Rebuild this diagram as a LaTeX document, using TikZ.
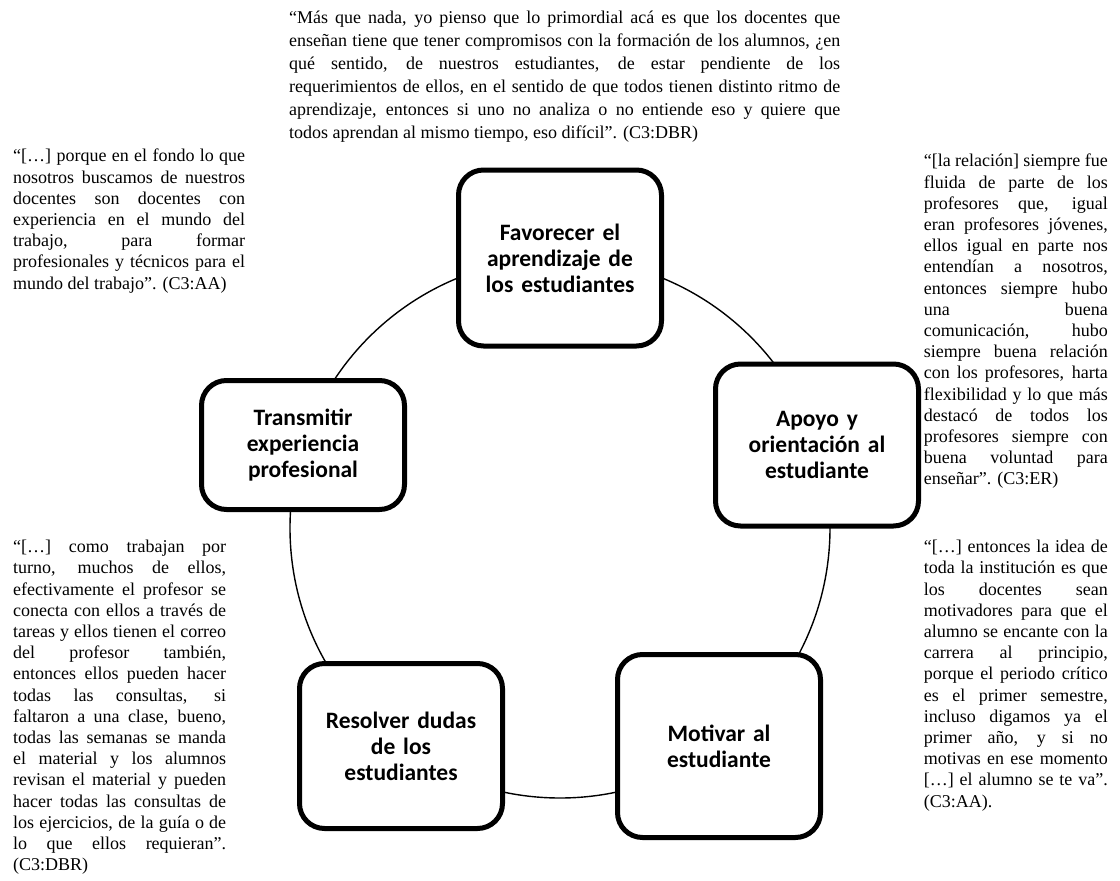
\documentclass[tikz,border=0pt]{standalone}
\usepackage{fontspec}
\setmainfont{Liberation Serif}
\newfontfamily\cajafont{Carlito}

\tikzset{
  etapa/.style={draw, line width=5pt, rounded corners=25pt, fill=white,
    minimum width=203pt, text width=190pt, align=center,
    font=\cajafont\bfseries\fontsize{23.5}{26}\selectfont},
  cita/.style={inner sep=0pt, align=justify, font=\fontsize{18}{21.2}\selectfont},
}

\begin{document}
\begin{tikzpicture}[x=1pt, y=-1pt]

  \useasboundingbox (0,0) rectangle (1120,881);

  % --- ciclo ---
  \coordinate (centro) at (560,528);
  \draw[line width=1.4pt] (centro) circle (270pt);

  % --- cajas ---
  \node[etapa, minimum height=176pt] (favorecer)  at (560,258) {Favorecer el\\aprendizaje de\\los estudiantes};
  \node[etapa, minimum height=162pt] (apoyo)      at (817,445) {Apoyo y\\orientación al\\estudiante};
  \node[etapa, minimum height=183pt] (motivar)    at (719,746) {Motivar al\\estudiante};
  \node[etapa, minimum height=165pt] (resolver)   at (401,746) {Resolver dudas\\de los\\estudiantes};
  \node[etapa, minimum height=129pt] (transmitir) at (303,445) {Transmitir\\experiencia\\profesional};

  % --- citas ---
  \node[cita, anchor=north west, text width=551pt, font=\fontsize{18}{23}\selectfont] (citaDBR) at (289,11)
    {“Más que nada, yo pienso que lo primordial acá es que los docentes que\linebreak
     enseñan tiene que tener compromisos con la formación de los alumnos, ¿en\linebreak
     qué sentido, de nuestros estudiantes, de estar pendiente de los\linebreak
     requerimientos de ellos, en el sentido de que todos tienen distinto ritmo de\linebreak
     aprendizaje, entonces si uno no analiza o no entiende eso y quiere que\linebreak
     todos aprendan al mismo tiempo, eso difícil”. (C3:DBR)};

  \node[cita, anchor=north west, text width=232pt] (citaAA) at (13,149)
    {“[…] porque en el fondo lo que\linebreak
     nosotros buscamos de nuestros\linebreak
     docentes son docentes con\linebreak
     experiencia en el mundo del\linebreak
     trabajo, para formar\linebreak
     profesionales y técnicos para el\linebreak
     mundo del trabajo”. (C3:AA)};

  \node[cita, anchor=north east, text width=184pt] (citaER) at (1108,154)
    {“[la relación] siempre fue\linebreak
     fluida de parte de los\linebreak
     profesores que, igual\linebreak
     eran profesores jóvenes,\linebreak
     ellos igual en parte nos\linebreak
     entendían a nosotros,\linebreak
     entonces siempre hubo\linebreak
     una buena\linebreak
     comunicación, hubo\linebreak
     siempre buena relación\linebreak
     con los profesores, harta\linebreak
     flexibilidad y lo que más\linebreak
     destacó de todos los\linebreak
     profesores siempre con\linebreak
     buena voluntad para\linebreak
     enseñar”. (C3:ER)};

  \node[cita, anchor=north west, text width=213pt] (citaDBRdos) at (13,540)
    {“[…] como trabajan por\linebreak
     turno, muchos de ellos,\linebreak
     efectivamente el profesor se\linebreak
     conecta con ellos a través de\linebreak
     tareas y ellos tienen el correo\linebreak
     del profesor también,\linebreak
     entonces ellos pueden hacer\linebreak
     todas las consultas, si\linebreak
     faltaron a una clase, bueno,\linebreak
     todas las semanas se manda\linebreak
     el material y los alumnos\linebreak
     revisan el material y pueden\linebreak
     hacer todas las consultas de\linebreak
     los ejercicios, de la guía o de\linebreak
     lo que ellos requieran”.\linebreak
     (C3:DBR)};

  \node[cita, anchor=north east, text width=184pt] (citaAAdos) at (1108,540)
    {“[…] entonces la idea de\linebreak
     toda la institución es que\linebreak
     los docentes sean\linebreak
     motivadores para que el\linebreak
     alumno se encante con la\linebreak
     carrera al principio,\linebreak
     porque el periodo crítico\linebreak
     es el primer semestre,\linebreak
     incluso digamos ya el\linebreak
     primer año, y si no\linebreak
     motivas en ese momento\linebreak
     {[}…] el alumno se te va”.\linebreak
     (C3:AA).};

\end{tikzpicture}
\end{document}
